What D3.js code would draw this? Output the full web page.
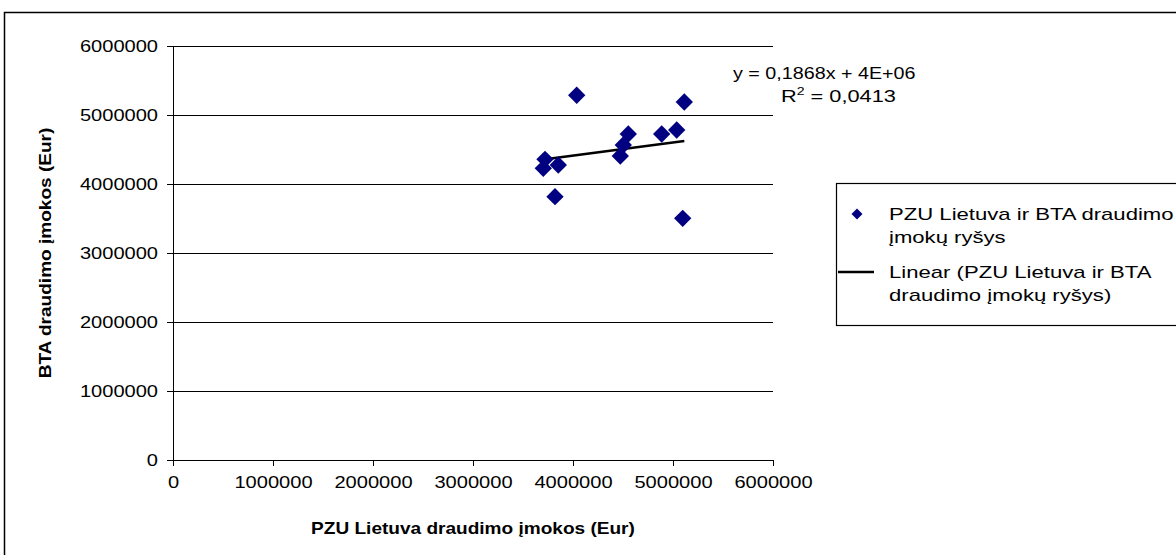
<!DOCTYPE html>
<html>
<head>
<meta charset="utf-8">
<script src="https://cdn.jsdelivr.net/npm/d3@7"></script>
<style>
  body { margin: 0; background: #fff; }
  svg { font-family: "Liberation Sans", Arial, sans-serif; }
</style>
</head>
<body>
<div id="chart"></div>
<script>
// PZU Lietuva (x) vs BTA (y) draudimo įmokos
const pzuPremiums = [4037000, 5113000, 4553000, 4887000, 5037000, 4503000,
                     4473000, 3720000, 3703000, 3853000, 3820000, 5097000];
const btaPremiums = [5286000, 5188000, 4725000, 4725000, 4783000, 4565000,
                     4406000, 4358000, 4227000, 4275000, 3816000, 3503000];
const axisTicks = [0, 1000000, 2000000, 3000000, 4000000, 5000000, 6000000];
const equationLines = ["y = 0,1868x + 4E+06", "R² = 0,0413"];
const legendSeries = ["PZU Lietuva ir BTA draudimo", "įmokų ryšys"];
const legendTrend = ["Linear (PZU Lietuva ir BTA", "draudimo įmokų ryšys)"];

const width = 1176, height = 555;
const plot = {left: 173, right: 773, top: 46, bottom: 460};

// the original picture has its text a bit wider than normal
function stretch(sel, f) {
  sel.each(function() {
    let w = this.getComputedTextLength();
    d3.select(this).attr("textLength", w * f).attr("lengthAdjust", "spacingAndGlyphs");
  });
}

const svg = d3.select("#chart").append("svg")
    .attr("width", width)
    .attr("height", height);

// outer chart frame (runs off the right and bottom edges)
svg.append("rect")
    .attr("x", 4.5).attr("y", 12.5)
    .attr("width", 1300).attr("height", 700)
    .attr("fill", "none").attr("stroke", "#000").attr("stroke-width", 1.5);

let x = d3.scaleLinear().domain([0, 6000000]).range([plot.left, plot.right]);
let y = d3.scaleLinear().domain([0, 6000000]).range([plot.bottom, plot.top]);

// horizontal gridlines
svg.append("g")
    .attr("shape-rendering", "crispEdges")
    .selectAll("line")
    .data(axisTicks.slice(1))
    .join("line")
    .attr("x1", plot.left).attr("x2", plot.right)
    .attr("y1", d => y(d)).attr("y2", d => y(d))
    .attr("stroke", "#000").attr("stroke-width", 1);

let yAxis = svg.append("g")
    .attr("transform", `translate(${plot.left},0)`)
    .call(d3.axisLeft(y).tickValues(axisTicks).tickSize(6).tickSizeOuter(0).tickPadding(9).tickFormat(d3.format("d")));
let xAxis = svg.append("g")
    .attr("transform", `translate(0,${plot.bottom})`)
    .call(d3.axisBottom(x).tickValues(axisTicks).tickSize(6).tickSizeOuter(0).tickPadding(10).tickFormat(d3.format("d")));

[yAxis, xAxis].forEach(g => {
  g.attr("shape-rendering", "crispEdges");
  g.select(".domain").attr("stroke", "#000").attr("stroke-width", 1);
  g.selectAll(".tick line").attr("stroke", "#000");
  g.selectAll("text").attr("font-size", 17).attr("fill", "#000")
      .attr("font-family", "Liberation Sans, Arial, sans-serif")
      .call(stretch, 1.18);
});

// axis titles
svg.append("text")
    .attr("x", (plot.left + plot.right) / 2).attr("y", 534)
    .attr("text-anchor", "middle")
    .attr("font-size", 17).attr("font-weight", "bold")
    .text("PZU Lietuva draudimo įmokos (Eur)")
    .call(stretch, 1.12);
svg.append("text")
    .attr("transform", `translate(51,${(plot.top + plot.bottom) / 2}) rotate(-90)`)
    .attr("text-anchor", "middle")
    .attr("font-size", 17).attr("font-weight", "bold")
    .text("BTA draudimo įmokos (Eur)")
    .call(stretch, 1.12);

// linear trendline (least squares from the points)
let mx = d3.mean(pzuPremiums), my = d3.mean(btaPremiums);
let sxy = d3.sum(pzuPremiums, (v, i) => (v - mx) * (btaPremiums[i] - my));
let sxx = d3.sum(pzuPremiums, v => (v - mx) * (v - mx));
let slope = sxy / sxx, intercept = my - slope * mx;
let xExt = d3.extent(pzuPremiums);

svg.append("line")
    .attr("x1", x(xExt[0])).attr("y1", y(intercept + slope * xExt[0]))
    .attr("x2", x(xExt[1])).attr("y2", y(intercept + slope * xExt[1]))
    .attr("stroke", "#000").attr("stroke-width", 2.5);

// points: navy diamonds
let diamond = d3.symbol().type(d3.symbolSquare).size(150);
svg.append("g")
    .selectAll("path")
    .data(pzuPremiums.map((v, i) => [v, btaPremiums[i]]))
    .join("path")
    .attr("d", diamond)
    .attr("transform", d => `translate(${x(d[0])},${y(d[1])}) rotate(45)`)
    .attr("fill", "#000080");

// equation label
svg.append("g").attr("transform", "translate(733,79) scale(1.16,1)")
  .append("text")
    .attr("font-size", 17)
    .text(equationLines[0]);
let r2 = svg.append("g").attr("transform", "translate(781,102) scale(1.28,1)")
  .append("text")
    .attr("font-size", 17);
r2.append("tspan").text("R");
r2.append("tspan").attr("font-size", 11).attr("dy", -7).text("2");
r2.append("tspan").attr("dy", 7).text(equationLines[1].slice(2));

// legend
let legend = svg.append("g");
legend.append("rect")
    .attr("x", 836.5).attr("y", 183.5)
    .attr("width", 500).attr("height", 142)
    .attr("fill", "#fff").attr("stroke", "#000").attr("stroke-width", 1.2);
legend.append("path")
    .attr("d", d3.symbol().type(d3.symbolSquare).size(60))
    .attr("transform", "translate(857,214) rotate(45)")
    .attr("fill", "#000080");
legend.append("line")
    .attr("x1", 838).attr("x2", 874).attr("y1", 272).attr("y2", 272)
    .attr("stroke", "#000").attr("stroke-width", 2.5);
legendSeries.concat(legendTrend).forEach((t, i) => {
  legend.append("text")
      .attr("x", 889).attr("y", [220, 243, 278, 301][i])
      .attr("font-size", 17)
      .text(t)
      .call(stretch, 1.3);
});
</script>
</body>
</html>
